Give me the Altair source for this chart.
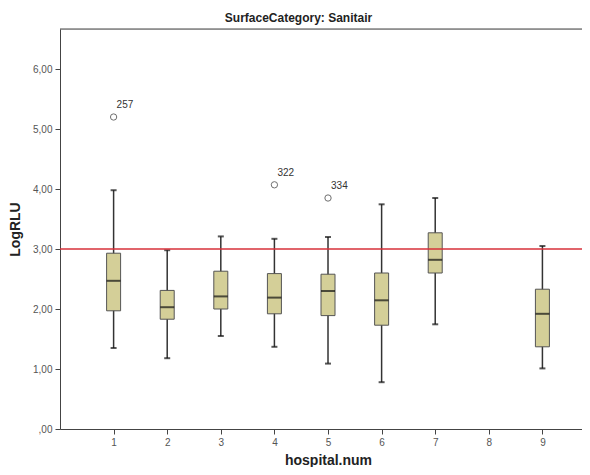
import altair as alt
import pandas as pd

# --- data ---
hospitals = [1, 2, 3, 4, 5, 6, 7, 9]
whisker_lo = [1.35, 1.18, 1.55, 1.37, 1.09, 0.78, 1.745, 1.01]
q1 = [1.97, 1.83, 2.00, 1.92, 1.89, 1.73, 2.60, 1.37]
median = [2.47, 2.03, 2.21, 2.19, 2.30, 2.145, 2.82, 1.92]
q3 = [2.93, 2.31, 2.63, 2.59, 2.58, 2.60, 3.27, 2.33]
whisker_hi = [3.98, 2.98, 3.21, 3.17, 3.20, 3.745, 3.85, 3.05]

outlier_hosp = [1, 4, 5]
outlier_val = [5.20, 4.07, 3.85]
outlier_lbl = ["257", "322", "334"]

reference_level = [3.0]
x_ticks = [1, 2, 3, 4, 5, 6, 7, 8, 9]
y_ticks = [0, 1, 2, 3, 4, 5, 6]

W, H = 529, 400
FONT = "Liberation Sans"

boxes = pd.DataFrame({"h": hospitals, "lo": whisker_lo, "q1": q1,
                      "med": median, "q3": q3, "hi": whisker_hi})
outl = pd.DataFrame({"h": outlier_hosp, "v": outlier_val, "lbl": outlier_lbl})
ref = pd.DataFrame({"y": reference_level})

xscale = alt.Scale(domain=[0, 9.869], nice=False, zero=False, padding=0)
yscale = alt.Scale(domain=[0, 6.667], nice=False, padding=0)

xaxis = alt.Axis(values=x_ticks, format="d", grid=False, tickSize=5,
                 labelPadding=3, tickColor="#444", domainColor="#444",
                 labelColor="#555", labelFont=FONT, labelFontSize=10,
                 title="hospital.num", titleFont=FONT, titleFontSize=14,
                 titleFontWeight="bold", titleColor="#222", titlePadding=6,
                 titleX=268)
yaxis = alt.Axis(values=y_ticks, grid=False, tickSize=5, labelPadding=3,
                 labelExpr="datum.value == 0 ? ',00' : replace(format(datum.value, '.2f'), '.', ',')",
                 tickColor="#444", domainColor="#444",
                 labelColor="#555", labelFont=FONT, labelFontSize=10,
                 title="LogRLU", titleFont=FONT, titleFontSize=14,
                 titleFontWeight="bold", titleColor="#222", titlePadding=10)

base = alt.Chart(boxes)

whisk = base.mark_rule(color="#333", strokeWidth=1.5).encode(
    x=alt.X("h:Q", scale=xscale, axis=xaxis),
    y=alt.Y("lo:Q", scale=yscale, axis=yaxis),
    y2="hi:Q",
)
cap_lo = base.mark_tick(orient="horizontal", size=6, thickness=2, color="#111").encode(
    x="h:Q", y="lo:Q")
cap_hi = base.mark_tick(orient="horizontal", size=6, thickness=2, color="#111").encode(
    x="h:Q", y="hi:Q")
box = base.mark_bar(size=14, fill="#d4cf98", stroke="#555", strokeWidth=1).encode(
    x="h:Q", y="q1:Q", y2="q3:Q")
med = base.mark_tick(orient="horizontal", size=14, thickness=2, color="#111").encode(
    x="h:Q", y="med:Q")

pts = alt.Chart(outl).mark_point(shape="circle", filled=False, size=40,
                                 color="#333", strokeWidth=1).encode(
    x="h:Q", y="v:Q")
lbls = alt.Chart(outl).mark_text(align="left", baseline="middle", dx=3, dy=-12,
                                 font=FONT, fontSize=10, color="#333").encode(
    x="h:Q", y="v:Q", text="lbl:N")

redline = alt.Chart(ref).mark_rule(color="#d7303a", strokeWidth=1.5).encode(y="y:Q")

topframe = alt.Chart(ref).mark_rule(color="#444", strokeWidth=1).encode(
    x=alt.value(0), x2=alt.value(W), y=alt.value(0))

chart = alt.layer(whisk, cap_lo, cap_hi, box, med, pts, lbls, redline, topframe).properties(
    width=W, height=H,
    title=alt.TitleParams("SurfaceCategory: Sanitair", font=FONT, fontSize=12,
                          fontWeight="bold", color="#222", anchor="middle",
                          dx=-26, offset=4),
    autosize=alt.AutoSizeParams(type="none"),
    padding={"left": 52, "top": 21, "right": -7, "bottom": 38},
).configure_view(fill="#f0f0f0", strokeWidth=0).configure(background="white")

chart.save("out.html", embed_options={"renderer": "svg", "actions": False})
